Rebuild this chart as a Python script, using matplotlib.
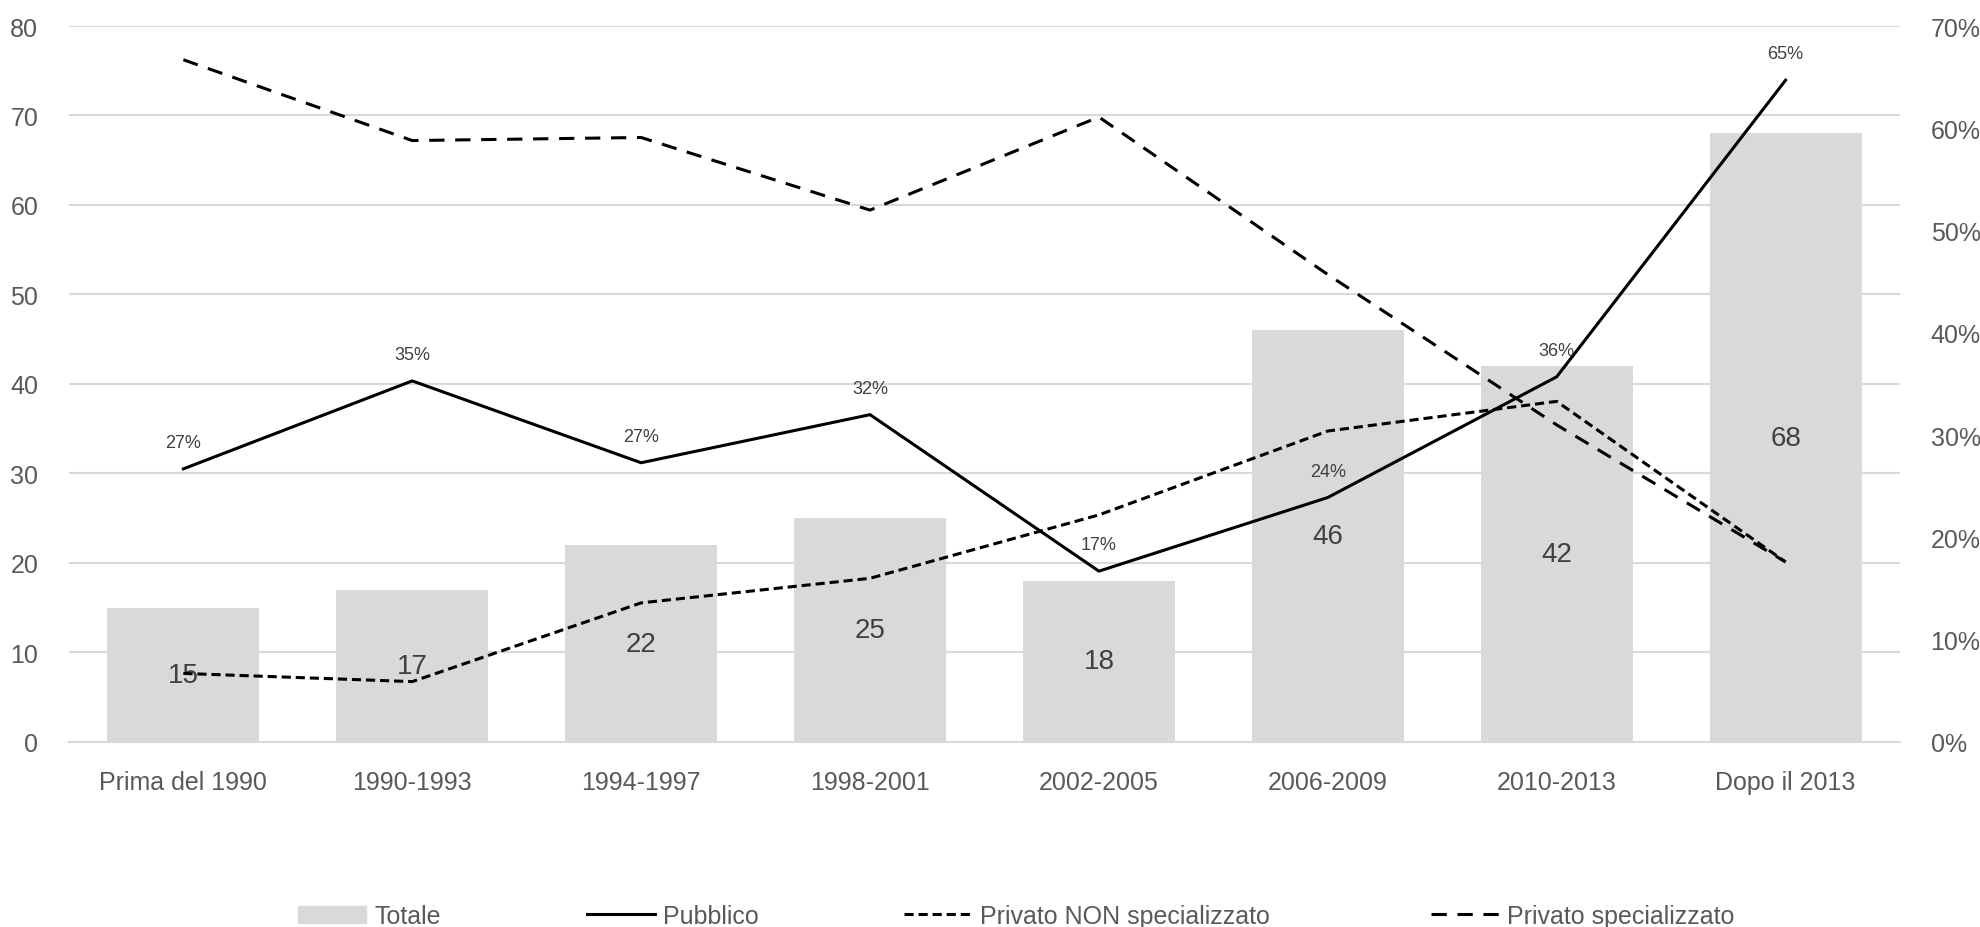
import matplotlib.pyplot as plt
from matplotlib.patches import Patch
from matplotlib.lines import Line2D
from matplotlib.ticker import PercentFormatter

plt.rcParams['font.family'] = ['Liberation Sans', 'DejaVu Sans']

categories = ['Prima del 1990', '1990-1993', '1994-1997', '1998-2001',
              '2002-2005', '2006-2009', '2010-2013', 'Dopo il 2013']
totale = [15, 17, 22, 25, 18, 46, 42, 68]
pubblico = [0.267, 0.353, 0.273, 0.320, 0.167, 0.239, 0.357, 0.647]
privato_non_spec = [0.067, 0.059, 0.136, 0.160, 0.222, 0.304, 0.333, 0.176]
privato_spec = [0.667, 0.588, 0.591, 0.520, 0.611, 0.457, 0.310, 0.176]

grey = '#D9D9D9'
tick_col = '#595959'
label_col = '#404040'

fig = plt.figure(figsize=(19.8, 9.28), dpi=100)
ax = fig.add_axes([0.0348, 0.1994, 0.9248, 0.7715])
x = range(len(categories))

ax.bar(x, totale, width=0.664, color=grey, zorder=2)
for i, v in enumerate(totale):
    ax.text(i, v / 2, str(v), ha='center', va='center', fontsize=20,
            color=label_col, zorder=3)

ax.set_xlim(-0.5, len(categories) - 0.5)
ax.set_ylim(0, 80)
ax.set_yticks(range(0, 81, 10))
ax.yaxis.grid(True, color=grey, linewidth=1.5, zorder=0)
ax.set_axisbelow(True)
ax.set_xticks(list(x))
ax.set_xticklabels(categories)
ax.tick_params(axis='both', length=0, labelsize=18, labelcolor=tick_col)
ax.tick_params(axis='x', pad=20)
ax.tick_params(axis='y', pad=22)
for s in ['top', 'right', 'left']:
    ax.spines[s].set_visible(False)
ax.spines['bottom'].set_color(grey)
ax.spines['bottom'].set_linewidth(1.5)

ax2 = ax.twinx()
ax2.plot(x, pubblico, color='black', linewidth=2.2)
ax2.plot(x, privato_non_spec, color='black', linewidth=2.2, dashes=(3, 1.6))
ax2.plot(x, privato_spec, color='black', linewidth=2.2, dashes=(5, 3.5))
for i, v in enumerate(pubblico):
    ax2.annotate(f'{v:.0%}', (i, v), xytext=(0, 19), textcoords='offset points',
                 ha='center', va='center', fontsize=13, color=label_col)
ax2.set_ylim(0, 0.7)
ax2.set_yticks([i / 10 for i in range(8)])
ax2.yaxis.set_major_formatter(PercentFormatter(1.0, decimals=0))
ax2.tick_params(axis='y', length=0, labelsize=18, labelcolor=tick_col, pad=22)
for s in ['top', 'right', 'left', 'bottom']:
    ax2.spines[s].set_visible(False)

# legend entries placed one by one, the gaps in the original are uneven
handles = [Patch(color=grey),
           Line2D([], [], color='black', linewidth=2.2),
           Line2D([], [], color='black', linewidth=2.2, dashes=(3, 1.6)),
           Line2D([], [], color='black', linewidth=2.2, dashes=(5, 3.5))]
names = ['Totale', 'Pubblico', 'Privato NON specializzato', 'Privato specializzato']
starts = [298, 587, 904, 1431]
for h, n, sx in zip(handles, names, starts):
    leg = fig.legend([h], [n], loc='center left',
                     bbox_to_anchor=(sx / 1980, 1 - 917 / 928),
                     frameon=False, fontsize=18, handlelength=2.7,
                     handletextpad=0.35, borderpad=0, borderaxespad=0)
    for t in leg.get_texts():
        t.set_color(tick_col)

fig.savefig('out.png', dpi=100)
